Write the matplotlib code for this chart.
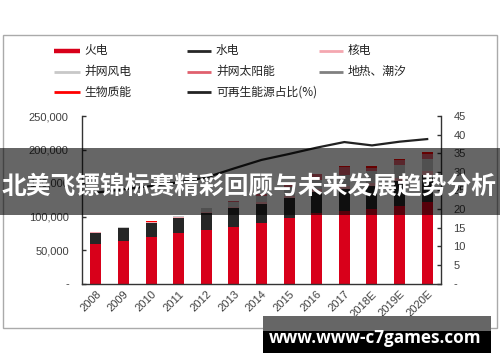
import matplotlib
matplotlib.use('Agg')
import matplotlib.pyplot as plt
from matplotlib.lines import Line2D
from matplotlib.patches import Rectangle
import numpy as np

plt.rcParams['font.family'] = ['Liberation Sans', 'Noto Sans CJK SC', 'DejaVu Sans']

# ---------------- data ----------------
years = ['2008', '2009', '2010', '2011', '2012', '2013', '2014', '2015',
         '2016', '2017', '2018E', '2019E', '2020E']
fire = [58700, 63200, 69600, 75100, 80000, 84300, 90100, 97300,
        105000, 108500, 111000, 116000, 121500]
hydro = [17300, 19300, 20400, 22400, 24800, 28000, 29000, 30500,
         32000, 33000, 35000, 37000, 40000]
nuclear = [900, 900, 1100, 1250, 1300, 1500, 2000, 2700,
           3400, 3600, 4500, 5000, 5800]
wind = [300, 600, 1000, 1500, 6000, 7600, 9600, 13000,
        14700, 16400, 17000, 19000, 18000]
solar = [0, 0, 30, 200, 300, 1600, 2500, 4200,
         7600, 13000, 5500, 7000, 8500]
geothermal = [30, 30, 30, 30, 30, 30, 30, 30, 30, 30, 30, 30, 30]
biomass = [300, 400, 500, 600, 700, 800, 900, 1000,
           1200, 1500, 1700, 2000, 2500]
renewable_share = [24.4, 25.3, 26.2, 27.2, 28.5, 30.9, 33.2, 34.8,
                   36.5, 38.0, 37.1, 38.1, 38.8]

series_names = ['火电', '水电', '核电', '并网风电', '并网太阳能', '地热、潮汐', '生物质能']
line_name = '可再生能源占比(%)'
left_ticks = [0, 50000, 100000, 150000, 200000, 250000]
left_labels = ['-', '50,000', '100,000', '150,000', '200,000', '250,000']
right_ticks = [0, 5, 10, 15, 20, 25, 30, 35, 40, 45]
right_labels = ['-', '5', '10', '15', '20', '25', '30', '35', '40', '45']
banner_text = '北美飞镖锦标赛精彩回顾与未来发展趋势分析'
watermark_text = 'www.www-c7games.com'

# ---------------- style ----------------
colors = ['#D8001A', '#262626', '#F4A7B0', '#C8C8C8', '#E0606E', '#808080', '#FF0000']
line_color = '#222222'
axis_color = '#333333'
label_color = '#404040'

W, H = 500, 362
fig = plt.figure(figsize=(W / 100, H / 100), dpi=100)
fig.patch.set_facecolor('white')


def fx(px):
    return px / W


def fy(py):
    return 1 - py / H


# chart frame
fig.add_artist(Rectangle((fx(3.3), fy(328.3)), fx(496.7) - fx(3.3), (328.3 - 34.7) / H,
                         transform=fig.transFigure, fill=False, ec='#AAAAAA', lw=1.0, zorder=0))

ax = fig.add_axes([fx(82), fy(283.5), fx(441) - fx(82), (283.5 - 116) / H])
x = np.arange(len(years))
all_series = [fire, hydro, nuclear, wind, solar, geothermal, biomass]
bottom = np.zeros(len(years))
for vals, col in zip(all_series, colors):
    v = np.array(vals, dtype=float)
    ax.bar(x, v, 0.4, bottom=bottom, color=col, linewidth=0)
    bottom += v

ax.set_xlim(-0.5, len(years) - 0.5)
ax.set_ylim(0, 250000)
ax.set_yticks(left_ticks)
ax.set_yticklabels(left_labels)
ax.set_xticks(x)
ax.set_xticklabels(years, rotation=45, ha='right', va='top', rotation_mode='anchor')
ax.tick_params(axis='x', length=0, pad=4, labelsize=8, labelcolor=label_color)
ax.tick_params(axis='y', direction='in', length=3, color=axis_color, width=1,
               labelsize=8, labelcolor=label_color, pad=9.5)
for s in ['top', 'right']:
    ax.spines[s].set_visible(False)
for s in ['left', 'bottom']:
    ax.spines[s].set_color(axis_color)
    ax.spines[s].set_linewidth(1.0)

ax2 = ax.twinx()
ax2.plot(x, renewable_share, color=line_color, lw=1.6)
ax2.set_ylim(0, 45)
ax2.set_yticks(right_ticks)
ax2.set_yticklabels(right_labels)
ax2.tick_params(axis='y', direction='in', length=3, color=axis_color, width=1,
                labelsize=8, labelcolor=label_color, pad=9)
for s in ['top', 'left', 'bottom']:
    ax2.spines[s].set_visible(False)
ax2.spines['right'].set_color(axis_color)
ax2.spines['right'].set_linewidth(1.0)

# legend (manual, 3 columns)
cjk = ['Noto Sans CJK SC', 'DejaVu Sans']
col_x = [(54, 80, 84), (187, 211, 216), (319, 343, 348)]
row_y = [50.7, 71.7, 92.3]
entries = list(zip(series_names, colors)) + [(line_name, line_color)]
for i, (name, col) in enumerate(entries):
    r, c = divmod(i, 3)
    x0, x1, tx = col_x[c]
    lw = 3.2 if i == 0 else 2.0
    fig.add_artist(Line2D([fx(x0), fx(x1)], [fy(row_y[r]), fy(row_y[r])],
                          transform=fig.transFigure, color=col, lw=lw, solid_capstyle='butt'))
    fig.text(fx(tx), fy(row_y[r]), name, ha='left', va='center', fontsize=8.5,
             color='#222222', family=cjk)

# banner overlay
fig.add_artist(Rectangle((0, fy(215)), 1, (215 - 148) / H, transform=fig.transFigure,
                         fc='black', alpha=0.6, lw=0, zorder=10))
fig.text(fx(249), fy(186), banner_text, ha='center', va='center', fontsize=17.8,
         fontweight='bold', color='white', family=cjk, zorder=11)

# watermark
fig.add_artist(Rectangle((fx(263), fy(331)), fx(491) - fx(263), (331 - 316) / H,
                         transform=fig.transFigure, fc='#666666', lw=0, zorder=10))
fig.add_artist(Rectangle((fx(263), fy(353)), fx(491) - fx(263), (353 - 331) / H,
                         transform=fig.transFigure, fc='black', lw=0, zorder=10))
fig.text(fx(375.5), fy(338), watermark_text, ha='center', va='center', fontsize=12.3,
         fontweight='bold', color='white', family=['Open Sans', 'DejaVu Sans'], zorder=11)

fig.savefig('out.png', dpi=100)
